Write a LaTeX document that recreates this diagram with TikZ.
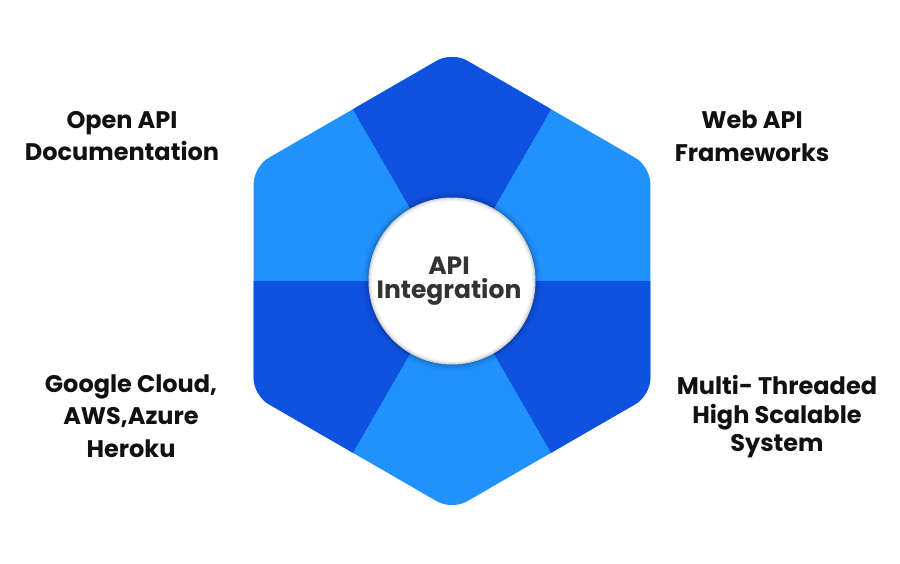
\documentclass[tikz,border=0pt]{standalone}
\usepackage{fontspec}
\setmainfont{Poppins}[UprightFont={* Bold}, BoldFont={* Bold}]
\begin{document}
\begin{tikzpicture}[x=1pt,y=-1pt,
  label text/.style={align=center, text=labelink, inner sep=0pt,
    font={\fontsize{24}{32.5}\selectfont}},
  hub text/.style={align=center, text=hubink, inner sep=0pt,
    font={\fontsize{25}{24}\selectfont}}]
\definecolor{segdark}{RGB}{16,82,224}
\definecolor{seglight}{RGB}{33,145,251}
\definecolor{labelink}{RGB}{17,17,17}
\definecolor{hubink}{RGB}{51,51,51}
\useasboundingbox (0,0) rectangle (900,563);
\fill[white] (0,0) rectangle (900,563);

\coordinate (C) at (452,281);
\def\hexR{229}

% hexagon body with six alternating sectors
\begin{scope}
  \clip[rounded corners=17pt] (C) ++(30:\hexR) -- ++(150:\hexR) -- ++(210:\hexR) -- ++(270:\hexR) -- ++(330:\hexR) -- ++(30:\hexR) -- cycle;
  \fill[seglight] (C) circle (300);
  % dark sectors: top, lower right, lower left (y axis points down)
  \fill[segdark] (C) -- ++(240:320) -- ++(0:320) -- cycle;
  \fill[segdark] (C) -- ++(0:320) -- ++(120:320) -- cycle;
  \fill[segdark] (C) -- ++(120:320) -- ++(240:320) -- cycle;
\end{scope}

% soft halo around the hub
\foreach \r/\o in {90/0.02, 88.5/0.03, 87/0.04, 85.5/0.06, 84.5/0.08}
  \fill[black, opacity=\o] (C) circle (\r);
\fill[white] (C) circle (83.5);
\foreach \r/\o in {83/0.16, 82/0.09, 81/0.05, 80/0.025}
  \draw[black, opacity=\o, line width=1.1pt] (C) circle (\r);

\node[hub text] (hub) at (449,281) {API\\Integration};

\node[label text] (docs) at (122,136) {Open API\\Documentation};
\node[label text] (web) at (752,136) {Web API\\Frameworks};
\node[label text] (cloud) at (131,416) {Google Cloud,\\AWS,Azure\\Heroku};
\node[label text, font={\fontsize{24}{28.5}\selectfont}] (scale) at (777,417) {Multi- Threaded\\High Scalable\\System};
\end{tikzpicture}
\end{document}
